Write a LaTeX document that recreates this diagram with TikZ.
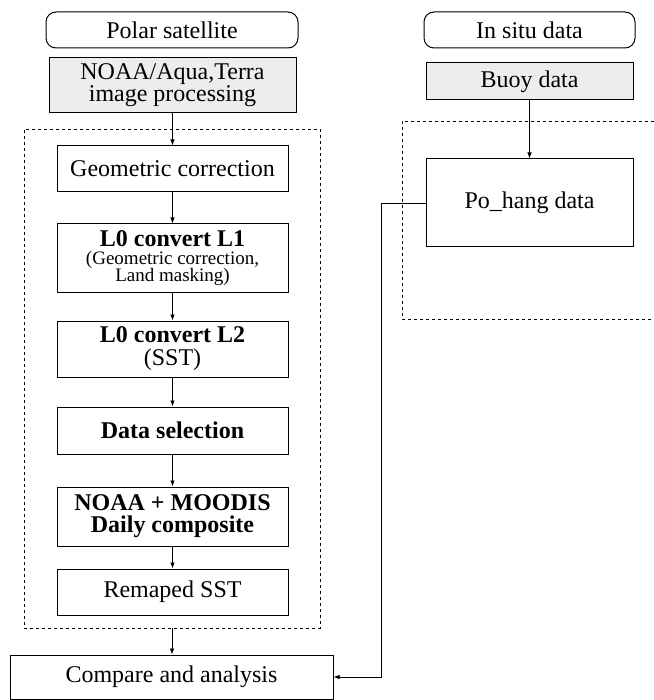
\documentclass[tikz,border=0pt]{standalone}
\usepackage{fontspec}
\setmainfont{Liberation Serif}
\usetikzlibrary{arrows.meta}
\tikzset{
  txt/.style={font={\fontsize{24}{24}\selectfont}},
  txtl/.style={font={\fontsize{24}{#1}\selectfont\lineskiplimit-40pt\relax}},
}
\begin{document}
\begin{tikzpicture}[x=1pt,y=-1pt,
  box/.style={draw, line width=1pt, minimum width=231pt, minimum height=#1, inner sep=0pt, align=center},
  graybox/.style={draw, line width=1pt, fill=black!7, inner sep=0pt, align=center},
  headbox/.style={draw, line width=1pt, rounded corners=10pt, inner sep=0pt, align=center, txt},
  dashbox/.style={draw, dashed, line width=0.8pt, inner sep=0pt},
  arr/.style={draw, line width=0.8pt, -{Latex[length=6pt,width=4.5pt]}}
]
\useasboundingbox (0,0) rectangle (653,700);
% left column
\node[headbox, minimum width=252pt, minimum height=36pt] (polar) at (172,30) {Polar satellite};
\node[graybox, txtl=22, minimum width=247pt, minimum height=55pt] (noaa) at (172.5,85.5) {NOAA/Aqua,Terra\\image processing};
\node[dashbox, minimum width=296pt, minimum height=499pt] (satbox) at (172,378.5) {};
\node[box=46pt, txt] (geo) at (172.5,169) {Geometric correction};
\node[box=68pt, txtl=16.5] (lone) at (172.5,258) {{\bfseries L0 convert L1}\\[2pt]{\fontsize{19}{16}\selectfont (Geometric correction,}\\{\fontsize{19}{16}\selectfont Land masking)}};
\node[box=56pt, txtl=23] (ltwo) at (172.5,349) {{\bfseries L0 convert L2}\\(SST)};
\node[box=47pt, txt] (sel) at (172.5,430.5) {\bfseries Data selection};
\node[box=59pt, txtl=22] (comp) at (172.5,516.5) {\bfseries NOAA + MOODIS\\\bfseries Daily composite};
\node[box=46pt, txt] (remap) at (172.5,592) {Remaped SST};
\node[draw, line width=1pt, minimum width=323pt, minimum height=44pt, inner sep=0pt, txt] (cmp) at (171.5,677) {Compare and analysis};
% right column
\node[headbox, minimum width=211pt, minimum height=36pt] (insitu) at (529.5,30) {In situ data};
\node[graybox, txt, minimum width=207pt, minimum height=37pt] (buoy) at (529.5,81.5) {Buoy data};
\draw[dashed, line width=0.8pt] (660,121) -- (402,121) -- (402,319) -- (660,319);
\node[draw, line width=1pt, minimum width=207pt, minimum height=88pt, inner sep=0pt, txt] (pohang) at (529.5,203) {Po\_hang data};
% connectors
\draw[arr] (noaa.south) -- (geo.north);
\draw[arr] (geo.south) -- (lone.north);
\draw[arr] (lone.south) -- (ltwo.north);
\draw[arr] (ltwo.south) -- (sel.north);
\draw[arr] (sel.south) -- (comp.north);
\draw[arr] (comp.south) -- (remap.north);
\draw[arr] (satbox.south) -- (satbox.south |- cmp.north);
\draw[arr] (buoy.south) -- (pohang.north);
\draw[arr] (pohang.west) -- ++(-44,0) |- (cmp.east);
\end{tikzpicture}
\end{document}
